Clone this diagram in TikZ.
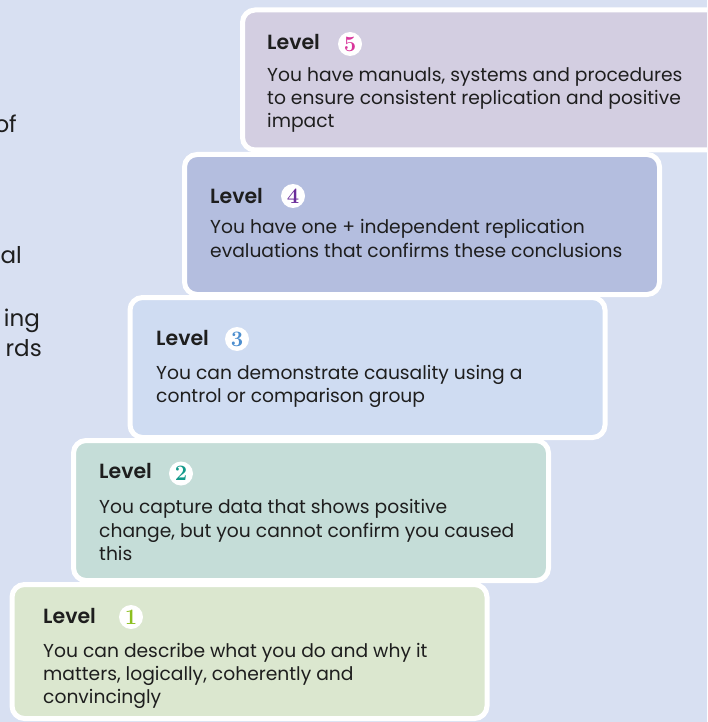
\documentclass[tikz,border=0pt]{standalone}
\usepackage{fontspec}
\setsansfont{Poppins}[BoldFont={Poppins SemiBold}]
\definecolor{bgc}{HTML}{D8E0F2}
\definecolor{fivec}{HTML}{D3CEE1}
\definecolor{fourc}{HTML}{B4BEDF}
\definecolor{threec}{HTML}{CFDCF2}
\definecolor{twoc}{HTML}{C5DDD8}
\definecolor{onec}{HTML}{DBE7CF}
\definecolor{dfive}{HTML}{D9369B}
\definecolor{dfour}{HTML}{6B2E9B}
\definecolor{dthree}{HTML}{4C8ECF}
\definecolor{dtwo}{HTML}{12998A}
\definecolor{done}{HTML}{8CBF1F}
\definecolor{txt}{HTML}{1E1E1E}
\begin{document}
\begin{tikzpicture}[x=1pt,y=-1pt,
  stepbox/.style={rectangle, draw=white, line width=5pt, rounded corners=12.5pt,
    inner sep=0pt, minimum width=475pt, minimum height=140pt},
  lvl/.style={anchor=base west, inner sep=0pt, text=txt,
    font=\sffamily\bfseries\fontsize{20.5}{23}\selectfont},
  body/.style={anchor=base west, inner sep=0pt, text=txt,
    font=\sffamily\fontsize{18.7}{23}\selectfont},
  side/.style={anchor=base east, inner sep=0pt, text=txt,
    font=\sffamily\fontsize{23}{30}\selectfont},
  numcirc/.style={circle, fill=white, inner sep=0pt, minimum size=24pt,
    font=\rmfamily\bfseries\fontsize{22}{22}\selectfont}]
\useasboundingbox (0,0) rectangle (707,722);
\clip (0,0) rectangle (707,722);
\fill[bgc] (0,0) rectangle (707,722);

% fragments of a left column
\node[side] (s1) at (17,133) {of};
\node[side] (s2) at (22,263) {al};
\node[side] (s3) at (40,326) {ing};
\node[side] (s4) at (42,356) {rds};

% level 5
\node[stepbox, fill=fivec, minimum width=500pt] (b5) at (492.5,80) {};
\node[lvl] (l5) at (267,50) {Level};
\node[numcirc, text=dfive] (n5) at (350,44) {5};
\node[body] (t5a) at (267,82) {You have manuals, systems and procedures};
\node[body] (t5b) at (267,105) {to ensure consistent replication and positive};
\node[body] (t5c) at (267,128) {impact};

% level 4
\node[stepbox, fill=fourc] (b4) at (422,224.5) {};
\node[lvl] (l4) at (210,203) {Level};
\node[numcirc, text=dfour] (n4) at (293,196) {4};
\node[body] (t4a) at (210,233) {You have one + independent replication};
\node[body] (t4b) at (210,257) {evaluations that confirms these conclusions};

% level 3
\node[stepbox, fill=threec] (b3) at (367.5,367.5) {};
\node[lvl] (l3) at (156,345) {Level};
\node[numcirc, text=dthree] (n3) at (237,339) {3};
\node[body] (t3a) at (156,379) {You can demonstrate causality using a};
\node[body] (t3b) at (156,402) {control or comparison group};

% level 2
\node[stepbox, fill=twoc] (b2) at (311,510.5) {};
\node[lvl] (l2) at (99,478) {Level};
\node[numcirc, text=dtwo] (n2) at (181,473.5) {2};
\node[body] (t2a) at (99,513) {You capture data that shows positive};
\node[body] (t2b) at (99,537) {change, but you cannot confirm you caused};
\node[body] (t2c) at (99,560) {this};

% level 1
\node[stepbox, fill=onec, minimum height=134pt] (b1) at (249.5,651.5) {};
\node[lvl] (l1) at (43,623) {Level};
\node[numcirc, text=done] (n1) at (131,617) {1};
\node[body] (t1a) at (43,657) {You can describe what you do and why it};
\node[body] (t1b) at (43,680) {matters, logically, coherently and};
\node[body] (t1c) at (43,703) {convincingly};
\end{tikzpicture}
\end{document}
